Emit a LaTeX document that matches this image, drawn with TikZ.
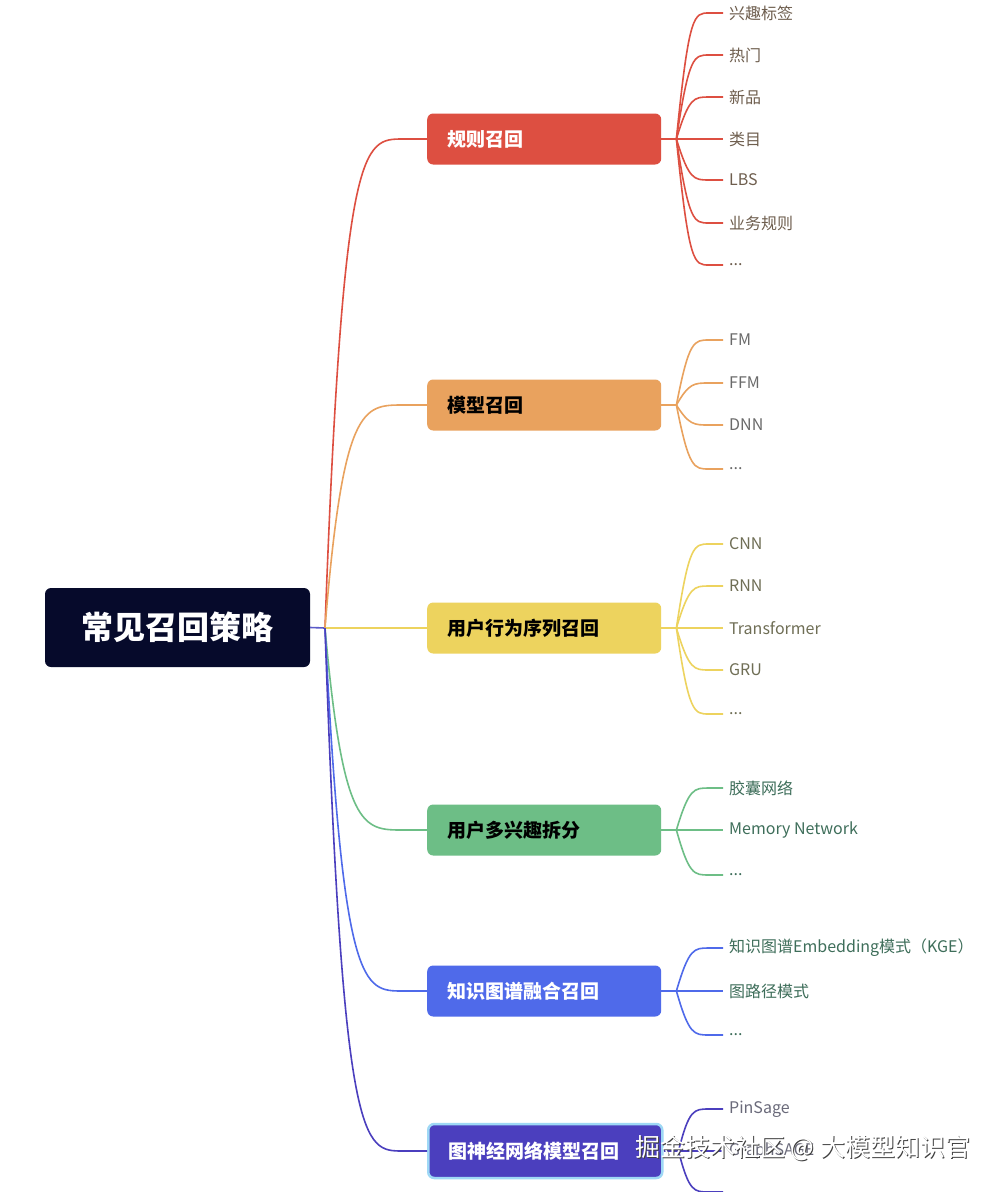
\documentclass[tikz,border=0pt]{standalone}
\usepackage{fontspec}
\setmainfont{Noto Sans CJK SC}
\usetikzlibrary{calc}
\newcommand\mydots{...}
\definecolor{rootc}{HTML}{060A2B}
\definecolor{redc}{HTML}{DD4F41}
\definecolor{orgc}{HTML}{E9A25E}
\definecolor{yelc}{HTML}{EDD35E}
\definecolor{grnc}{HTML}{6DBE86}
\definecolor{bluc}{HTML}{4F6AEA}
\definecolor{purc}{HTML}{4B3FBE}
\definecolor{selc}{HTML}{9ED8F5}
\definecolor{rootln}{HTML}{5A5AC8}
\definecolor{tred}{HTML}{6E5E4E}
\definecolor{torg}{HTML}{6A6A6A}
\definecolor{tyel}{HTML}{6F6E55}
\definecolor{tgrn}{HTML}{3E6E5A}
\definecolor{tpur}{HTML}{6A6A7A}
\begin{document}
\begin{tikzpicture}[x=1pt,y=-1pt,
  lvl/.style={rounded corners=6pt, minimum height=51pt, text width=194pt, inner xsep=20pt, anchor=west, align=left, font=\fontsize{19}{22}\selectfont\bfseries},
  leaf/.style={anchor=west, inner sep=0pt, font=\fontsize{16}{19}\selectfont},
  conn/.style={line width=1.6pt},
]
\useasboundingbox[fill=white] (0,0) rectangle (1002,1192);

% root
\node[fill=rootc, rounded corners=6pt, minimum width=265pt, minimum height=79pt, text=white, font=\fontsize{32}{36}\selectfont\bfseries] (root) at (177.5,627.5) {常见召回策略};
\coordinate (jroot) at (325,628);
\draw[conn, rootln] (root.east) -- (jroot);

% level 1
\node[lvl, fill=redc, text=white] (b1) at (427,139) {规则召回};
\node[lvl, fill=orgc, text=black] (b2) at (427,405) {模型召回};
\node[lvl, fill=yelc, text=black] (b3) at (427,628) {用户行为序列召回};
\node[lvl, fill=grnc, text=black] (b4) at (427,830) {用户多兴趣拆分};
\node[lvl, fill=bluc, text=white] (b5) at (427,991) {知识图谱融合召回};
\node[lvl, fill=purc, text=white, draw=selc, line width=2.5pt, minimum height=54pt] (b6) at (427,1151) {图神经网络模型召回};

\foreach \b/\c in {b1/redc, b2/orgc, b3/yelc, b4/grnc, b5/bluc, b6/purc} {
  \draw[conn, \c] (jroot) .. controls ([xshift=-84pt]\b.west) and ([xshift=-64pt]\b.west) .. ([xshift=-24pt]\b.west) -- (\b.west);
  \coordinate (j\b) at ([xshift=15pt]\b.east);
  \draw[conn, \c] (\b.east) -- (j\b);
}

% leaves
\foreach \t/\y [count=\i] in {兴趣标签/13, 热门/55, 新品/97, 类目/139, LBS/180, 业务规则/223, \mydots/265} {
  \node[leaf, text=tred] (r\i) at (729,\y) {\t};
  \draw[conn, redc] (jb1) .. controls ([xshift=-40pt]r\i.west) and ([xshift=-35pt]r\i.west) .. ([xshift=-20pt]r\i.west) -- ([xshift=-6pt]r\i.west);
}
\foreach \t/\y [count=\i] in {FM/340, FFM/383, DNN/425, \mydots/469} {
  \node[leaf, text=torg] (o\i) at (729,\y) {\t};
  \draw[conn, orgc] (jb2) .. controls ([xshift=-40pt]o\i.west) and ([xshift=-35pt]o\i.west) .. ([xshift=-20pt]o\i.west) -- ([xshift=-6pt]o\i.west);
}
\foreach \t/\y [count=\i] in {CNN/544, RNN/586, Transformer/628, GRU/670, \mydots/714} {
  \node[leaf, text=tyel] (y\i) at (729,\y) {\t};
  \draw[conn, yelc] (jb3) .. controls ([xshift=-40pt]y\i.west) and ([xshift=-35pt]y\i.west) .. ([xshift=-20pt]y\i.west) -- ([xshift=-6pt]y\i.west);
}
\foreach \t/\y [count=\i] in {胶囊网络/788, Memory Network/830, \mydots/875} {
  \node[leaf, text=tgrn] (g\i) at (729,\y) {\t};
  \draw[conn, grnc] (jb4) .. controls ([xshift=-40pt]g\i.west) and ([xshift=-35pt]g\i.west) .. ([xshift=-20pt]g\i.west) -- ([xshift=-6pt]g\i.west);
}
\foreach \t/\y [count=\i] in {知识图谱Embedding模式（KGE）/948, 图路径模式/991, \mydots/1035} {
  \node[leaf, text=tgrn] (k\i) at (729,\y) {\t};
  \draw[conn, bluc] (jb5) .. controls ([xshift=-40pt]k\i.west) and ([xshift=-35pt]k\i.west) .. ([xshift=-20pt]k\i.west) -- ([xshift=-6pt]k\i.west);
}
\foreach \t/\y [count=\i] in {PinSage/1109, GraphSAGE/1151} {
  \node[leaf, text=tpur] (p\i) at (729,\y) {\t};
  \draw[conn, purc] (jb6) .. controls ([xshift=-40pt]p\i.west) and ([xshift=-35pt]p\i.west) .. ([xshift=-20pt]p\i.west) -- ([xshift=-6pt]p\i.west);
}
\coordinate (p3) at (723,1192);
\draw[conn, purc] (jb6) .. controls (689,1192) and (694,1192) .. (709,1192) -- (p3);

% watermark
\node[anchor=west, inner sep=0pt, text=black!75, font=\fontsize{25}{28}\selectfont] (wm0) at (636,1149) {掘金技术社区 @ 大模型知识官};
\node[anchor=west, inner sep=0pt, text=white, font=\fontsize{25}{28}\selectfont] (wm) at (635,1148) {掘金技术社区 @ 大模型知识官};
\end{tikzpicture}
\end{document}
